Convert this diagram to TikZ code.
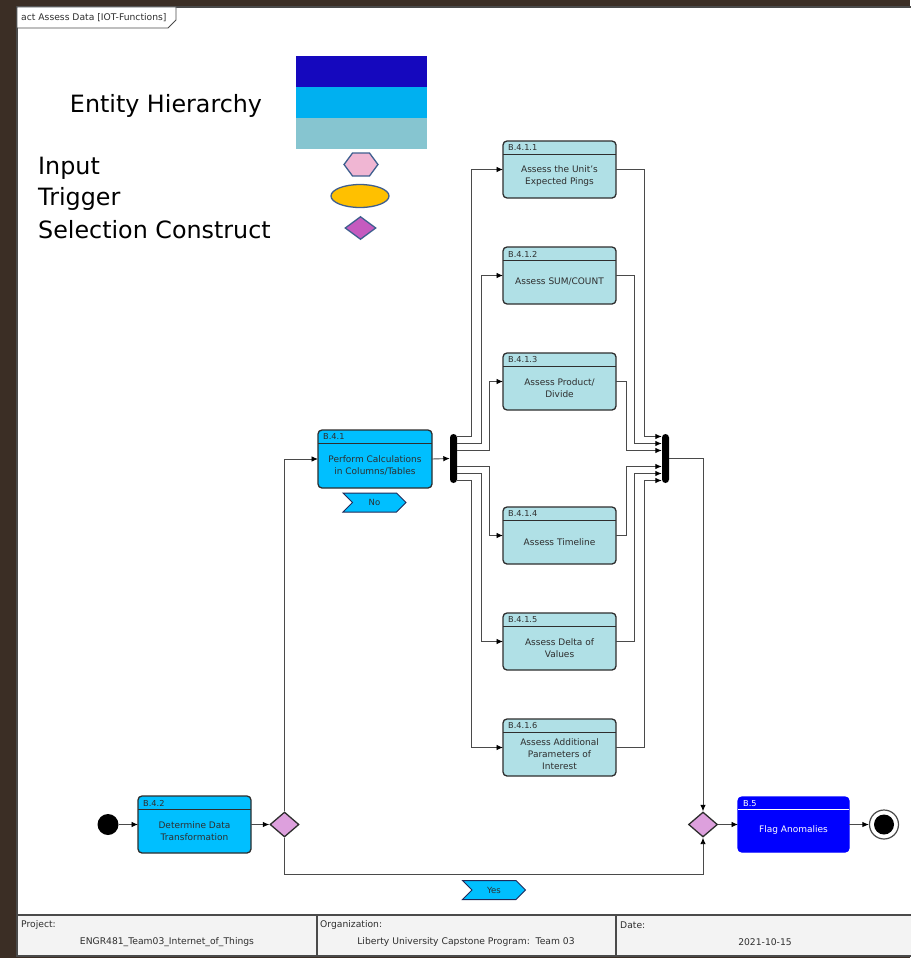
\documentclass[tikz,border=0pt]{standalone}
\usepackage{fontspec}
\setmainfont{DejaVu Sans}
\usetikzlibrary{arrows.meta,shapes.geometric,shapes.symbols}

\definecolor{edgebrown}{HTML}{3B2E25}
\definecolor{framegrey}{HTML}{4A4A4A}
\definecolor{boxline}{HTML}{2E2E2E}
\definecolor{flowgrey}{HTML}{4A4A4A}
\definecolor{paleblue}{HTML}{B0E0E6}
\definecolor{skyfill}{HTML}{00BFFF}
\definecolor{pureblue}{HTML}{0000FF}
\definecolor{decpink}{HTML}{DDA0DD}
\definecolor{tagline}{HTML}{1F2A5A}
\definecolor{footfill}{HTML}{F3F3F3}
\definecolor{levelone}{HTML}{1508BE}
\definecolor{leveltwo}{HTML}{00B0F0}
\definecolor{levelthree}{HTML}{86C5D0}
\definecolor{inputpink}{HTML}{F0B6D3}
\definecolor{triggergold}{HTML}{FFC000}
\definecolor{selectpurple}{HTML}{C55BBF}
\definecolor{legendline}{HTML}{3F5F8F}

\tikzset{
  actbox/.style={draw=boxline, line width=1.3pt, rounded corners=4pt, minimum width=113pt, minimum height=57pt, inner sep=0pt, outer sep=0pt},
  idtext/.style={anchor=west, inner sep=0pt, font=\fontsize{8.2}{9}\selectfont, text=boxline},
  bodytext/.style={align=center, inner sep=0pt, font=\fontsize{9}{12}\selectfont, text=boxline},
  hdline/.style={draw=boxline, line width=0.8pt},
  flow/.style={draw=flowgrey, line width=0.9pt, -{Latex[length=6.5pt,width=5.5pt,color=black]}},
  decision/.style={diamond, draw=boxline, line width=1.3pt, fill=decpink, minimum width=29pt, minimum height=25pt, inner sep=0pt},
  tagbox/.style={signal, signal from=west, signal to=east, draw=tagline, line width=1pt, fill=skyfill, minimum width=63pt, minimum height=19pt, inner sep=0pt, font=\fontsize{8.5}{9}\selectfont, text=boxline},
  syncbar/.style={fill=black, rounded corners=3.5pt, minimum width=7pt, minimum height=49pt, inner sep=0pt},
  legendtext/.style={anchor=west, inner sep=0pt, font=\fontsize{23.8}{28}\selectfont},
  foottext/.style={inner sep=0pt, font=\fontsize{9.2}{10}\selectfont, text=boxline},
}

\begin{document}
\begin{tikzpicture}[x=1pt, y=-1pt]
				\useasboundingbox (0,0) rectangle (910,958);
				\fill[edgebrown] (0,0) rectangle (910,958);

				%%frame and footer
				\draw[framegrey, line width=1.5pt, fill=white] (17,7) rectangle (914,956);
				\draw[framegrey, line width=1.5pt, fill=footfill] (17,915) rectangle (914,956);
				\draw[framegrey, line width=1.5pt] (317,915) -- (317,956);
				\draw[framegrey, line width=1.5pt] (616,915) -- (616,956);
				\draw[framegrey, line width=0.8pt, fill=white] (17,7) -- (176,7) -- (176,20) -- (168,28) -- (17,28) -- cycle;
				\node[foottext, anchor=west] (frametitle) at (21,18) {act Assess Data [IOT-Functions]};

				\node[foottext, anchor=west] (projlbl) at (21,925) {Project:};
				\node[foottext] (projval) at (167,942) {ENGR481\_Team03\_Internet\_of\_Things};
				\node[foottext, anchor=west] (orglbl) at (320,925) {Organization:};
				\node[foottext] (orgval) at (466,942) {Liberty University Capstone Program:\ \ Team 03};
				\node[foottext, anchor=west] (datelbl) at (620,925) {Date:};
				\node[foottext] (dateval) at (765,942) {2021-10-15};

				%%legend
				\node[font=\fontsize{23.8}{28}\selectfont, inner sep=0pt] (legtitle) at (166,106) {Entity Hierarchy};
				\node[fill=levelone, minimum width=131pt, minimum height=31pt, inner sep=0pt] (lvlone) at (361.5,72) {};
				\node[fill=leveltwo, minimum width=131pt, minimum height=31pt, inner sep=0pt] (lvltwo) at (361.5,102.5) {};
				\node[fill=levelthree, minimum width=131pt, minimum height=31pt, inner sep=0pt] (lvlthree) at (361.5,133.5) {};

				\node[legendtext] (leginput) at (38,168) {Input};
				\node[regular polygon, regular polygon sides=6, minimum size=26.5pt, xscale=1.28, inner sep=0pt, draw=legendline, line width=1.3pt, fill=inputpink] (inputhex) at (361,164.5) {};
				\node[legendtext] (legtrigger) at (38,199) {Trigger};
				\node[ellipse, minimum width=58pt, minimum height=23pt, inner sep=0pt, draw=legendline, line width=1.3pt, fill=triggergold] (triggeroval) at (360,196) {};
				\node[legendtext] (legselect) at (38,230) {Selection Construct};
				\node[diamond, minimum width=31pt, minimum height=23pt, inner sep=0pt, draw=legendline, line width=1.3pt, fill=selectpurple] (selectdia) at (360.5,228) {};

				%%main line
				\node[circle, fill=black, minimum size=21pt, inner sep=0pt] (start) at (108,824.5) {};

				\node[actbox, fill=skyfill] (b42) at (194.5,824.5) {};
				\node[idtext] (b42id) at ([xshift=5pt,yshift=-7pt]b42.north west) {B.4.2};
				\draw[hdline] ([yshift=-13pt]b42.north west) -- ([yshift=-13pt]b42.north east);
				\node[bodytext] (b42txt) at ([yshift=-6.5pt]b42.center) {Determine Data\\Transformation};

				\node[decision] (dec1) at (284.5,824.5) {};
				\node[decision] (dec2) at (703,824.5) {};

				\node[actbox, fill=pureblue, draw=pureblue, minimum width=111pt, minimum height=55pt] (b5) at (793.5,824.5) {};
				\node[idtext, text=white] (b5id) at ([xshift=5pt,yshift=-6.5pt]b5.north west) {B.5};
				\draw[white, line width=0.8pt] ([yshift=-12pt]b5.north west) -- ([yshift=-12pt]b5.north east);
				\node[bodytext, text=white] (b5txt) at ([yshift=-6pt]b5.center) {Flag Anomalies};

				\node[circle, draw=flowgrey, line width=1.2pt, fill=white, minimum size=29pt, inner sep=0pt] (stop) at (884,824.5) {};
				\node[circle, fill=black, minimum size=20pt, inner sep=0pt] (stopdot) at (stop.center) {};

				%%calculation box
				\node[actbox, fill=skyfill, minimum width=114pt, minimum height=58pt] (b41) at (375,459) {};
				\node[idtext] (b41id) at ([xshift=5pt,yshift=-7pt]b41.north west) {B.4.1};
				\draw[hdline] ([yshift=-13pt]b41.north west) -- ([yshift=-13pt]b41.north east);
				\node[bodytext] (b41txt) at ([yshift=-6.5pt]b41.center) {Perform Calculations\\in Columns/Tables};
				\node[tagbox] (notag) at (374.5,502.5) {No};

				\node[syncbar] (fork) at (453.5,458.5) {};
				\node[syncbar] (join) at (665.5,458.5) {};

				%%the six checks
				\node[actbox, fill=paleblue] (b411) at (559.5,169.5) {};
				\node[idtext] (b411id) at ([xshift=5pt,yshift=-7pt]b411.north west) {B.4.1.1};
				\draw[hdline] ([yshift=-13pt]b411.north west) -- ([yshift=-13pt]b411.north east);
				\node[bodytext] (b411txt) at ([yshift=-6.5pt]b411.center) {Assess the Unit's\\Expected Pings};

				\node[actbox, fill=paleblue] (b412) at (559.5,275.5) {};
				\node[idtext] (b412id) at ([xshift=5pt,yshift=-7pt]b412.north west) {B.4.1.2};
				\draw[hdline] ([yshift=-13pt]b412.north west) -- ([yshift=-13pt]b412.north east);
				\node[bodytext] (b412txt) at ([yshift=-6.5pt]b412.center) {Assess SUM/COUNT};

				\node[actbox, fill=paleblue] (b413) at (559.5,381.5) {};
				\node[idtext] (b413id) at ([xshift=5pt,yshift=-7pt]b413.north west) {B.4.1.3};
				\draw[hdline] ([yshift=-13pt]b413.north west) -- ([yshift=-13pt]b413.north east);
				\node[bodytext] (b413txt) at ([yshift=-6.5pt]b413.center) {Assess Product/\\Divide};

				\node[actbox, fill=paleblue] (b414) at (559.5,535.5) {};
				\node[idtext] (b414id) at ([xshift=5pt,yshift=-7pt]b414.north west) {B.4.1.4};
				\draw[hdline] ([yshift=-13pt]b414.north west) -- ([yshift=-13pt]b414.north east);
				\node[bodytext] (b414txt) at ([yshift=-6.5pt]b414.center) {Assess Timeline};

				\node[actbox, fill=paleblue] (b415) at (559.5,641.5) {};
				\node[idtext] (b415id) at ([xshift=5pt,yshift=-7pt]b415.north west) {B.4.1.5};
				\draw[hdline] ([yshift=-13pt]b415.north west) -- ([yshift=-13pt]b415.north east);
				\node[bodytext] (b415txt) at ([yshift=-6.5pt]b415.center) {Assess Delta of\\Values};

				\node[actbox, fill=paleblue] (b416) at (559.5,747.5) {};
				\node[idtext] (b416id) at ([xshift=5pt,yshift=-7pt]b416.north west) {B.4.1.6};
				\draw[hdline] ([yshift=-13pt]b416.north west) -- ([yshift=-13pt]b416.north east);
				\node[bodytext] (b416txt) at ([yshift=-6.5pt]b416.center) {Assess Additional\\Parameters of\\Interest};

				%%flows
				\draw[flow] (start) -- (b42);
				\draw[flow] (b42) -- (dec1);
				\draw[flow] (dec1.north) |- (b41.west);
				\draw[flow] (b41.east) -- (fork.west);

				%%fork out
				\draw[flow] ([yshift=22pt]fork.east) -- ++(14,0) |- (b411.west);
				\draw[flow] ([yshift=15pt]fork.east) -- ++(24,0) |- (b412.west);
				\draw[flow] ([yshift=8pt]fork.east) -- ++(32,0) |- (b413.west);
				\draw[flow] ([yshift=-8pt]fork.east) -- ++(32,0) |- (b414.west);
				\draw[flow] ([yshift=-15pt]fork.east) -- ++(24,0) |- (b415.west);
				\draw[flow] ([yshift=-22pt]fork.east) -- ++(14,0) |- (b416.west);

				%%join in
				\draw[flow] (b411.east) -- ++(28,0) |- ([yshift=22pt]join.west);
				\draw[flow] (b412.east) -- ++(18,0) |- ([yshift=15pt]join.west);
				\draw[flow] (b413.east) -- ++(10,0) |- ([yshift=8pt]join.west);
				\draw[flow] (b414.east) -- ++(10,0) |- ([yshift=-8pt]join.west);
				\draw[flow] (b415.east) -- ++(18,0) |- ([yshift=-15pt]join.west);
				\draw[flow] (b416.east) -- ++(28,0) |- ([yshift=-22pt]join.west);

				\draw[flow] (join.east) -| (dec2.north);
				%%yes route
				\draw[flow] (dec1.south) -- ++(0,37) -| (dec2.south);
				\node[tagbox] (yestag) at (494,890) {Yes};

				\draw[flow] (dec2) -- (b5);
				\draw[flow] (b5) -- (stop);
\end{tikzpicture}
\end{document}
